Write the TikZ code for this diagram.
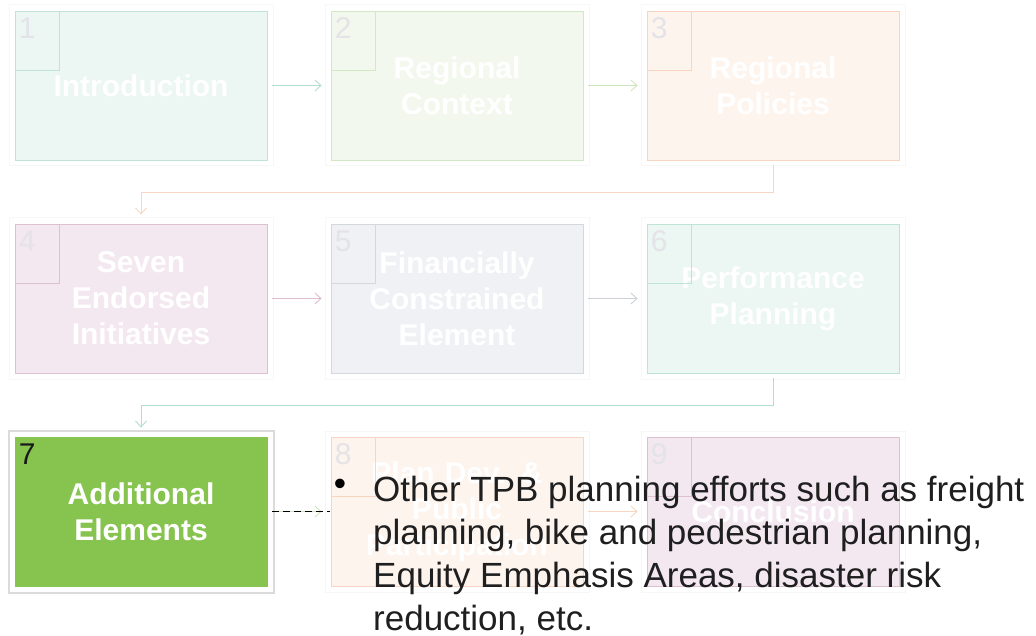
\documentclass[tikz,border=0pt]{standalone}
\usepackage{fontspec}
\setmainfont{Liberation Sans}
\usepackage{xcolor}
\usepackage{tikz}
\usetikzlibrary{shapes,arrows,arrows.meta,positioning}

\definecolor{tealF}{HTML}{ECF6F2}
\definecolor{tealD}{HTML}{BFE3D5}
\definecolor{tealA}{HTML}{B2DECD}
\definecolor{greenF}{HTML}{F2F8EE}
\definecolor{greenD}{HTML}{D3E8C4}
\definecolor{greenA}{HTML}{CDE6BC}
\definecolor{orangeF}{HTML}{FEF4EE}
\definecolor{orangeD}{HTML}{F8D5C0}
\definecolor{orangeA}{HTML}{F8D6C2}
\definecolor{pinkF}{HTML}{F3E8EF}
\definecolor{pinkD}{HTML}{DDC0D2}
\definecolor{pinkA}{HTML}{DDBCD0}
\definecolor{grayF}{HTML}{F0F1F4}
\definecolor{grayD}{HTML}{D4D7DD}
\definecolor{grayA}{HTML}{CDD0D7}
\definecolor{activeF}{HTML}{86C34F}
\definecolor{numgray}{HTML}{E3E3E8}

\begin{document}
\begin{tikzpicture}[x=1pt, y=1pt, node distance=316pt, auto]
    \tikzstyle{box} = [rectangle, minimum width=252pt, minimum height=149pt, text width=246pt, align=center, inner sep=0pt, line width=0.8pt, text=white, font=\fontsize{30}{36}\selectfont\bfseries, preaction={draw=black!3, line width=13pt, rounded corners=3pt}, preaction={draw=white, line width=11pt, rounded corners=2pt}]
    \tikzstyle{current} = [box, preaction={draw=black!14, line width=15pt, rounded corners=4pt}, preaction={draw=white, line width=11pt, rounded corners=2pt}]
    \tikzstyle{num} = [anchor=north west, inner sep=0pt, xshift=4pt, yshift=-7pt, font=\fontsize{30}{30}\selectfont\mdseries, text=numgray]
    \tikzstyle{arrow} = [line width=0.9pt, ->, >={Straight Barb[length=6pt,width=11pt]}, shorten <=5pt, shorten >=9pt]
    \tikzstyle{note} = [align=left, inner sep=0pt, font=\fontsize{35}{43}\selectfont, text=black!88]

    \useasboundingbox (0,0) rectangle (1036,-636);

    % First row
    \node [box, fill=tealF, draw=tealD, label={[num]north west:1}] (b1) at (141,-85.5) {Introduction};
    \node [box, fill=greenF, draw=greenD, label={[num]north west:2}, right of=b1] (b2) {Regional\\Context};
    \node [box, fill=orangeF, draw=orangeD, label={[num]north west:3}, right of=b2] (b3) {Regional\\Policies};

    % Second row
    \node [box, fill=pinkF, draw=pinkD, label={[num]north west:4}, below of=b1, node distance=213pt] (b4) {Seven\\Endorsed\\Initiatives};
    \node [box, fill=grayF, draw=grayD, label={[num]north west:5}, right of=b4] (b5) {Financially\\Constrained\\Element};
    \node [box, fill=tealF, draw=tealD, label={[num]north west:6}, right of=b5] (b6) {Performance\\Planning};

    % Third row, current step in green
    \node [current, fill=activeF, draw=activeF, label={[num, text=black!90]north west:7}, below of=b4, node distance=213pt] (b7) {Additional\\Elements};
    \node [box, fill=orangeF, draw=orangeD, label={[num]north west:8}, right of=b7] (b8) {Plan Dev. \&\\Public\\Participation};
    \node [box, fill=pinkF, draw=pinkD, label={[num]north west:9}, right of=b8] (b9) {Conclusion};

    % Number corners
    \draw [tealD] ([xshift=45pt]b1.north west) |- ([yshift=-60pt]b1.north west);
    \draw [greenD] ([xshift=45pt]b2.north west) |- ([yshift=-60pt]b2.north west);
    \draw [orangeD] ([xshift=45pt]b3.north west) |- ([yshift=-60pt]b3.north west);
    \draw [pinkD] ([xshift=45pt]b4.north west) |- ([yshift=-60pt]b4.north west);
    \draw [grayD] ([xshift=45pt]b5.north west) |- ([yshift=-60pt]b5.north west);
    \draw [tealD] ([xshift=45pt]b6.north west) |- ([yshift=-60pt]b6.north west);
    \draw [orangeD] ([xshift=45pt]b8.north west) |- ([yshift=-60pt]b8.north west);
    \draw [pinkD] ([xshift=45pt]b9.north west) |- ([yshift=-60pt]b9.north west);

    % Connections
    \draw [arrow, tealA] (b1) -- (b2);
    \draw [arrow, greenA] (b2) -- (b3);
    \draw [arrow, orangeA] (b3.south) -- ++(0,-32) -| (b4.north);
    \draw [arrow, pinkA] (b4) -- (b5);
    \draw [arrow, grayA] (b5) -- (b6);
    \draw [arrow, tealA] (b6.south) -- ++(0,-32) -| (b7.north);
    \draw [arrow, greenA] (b7) -- (b8);
    \draw [arrow, orangeA] (b8) -- (b9);
    \draw [line width=1.5pt, dash pattern=on 7pt off 4pt, shorten <=5pt, shorten >=1pt] (b7) -- (b8);

    % Bullet note
    \node [font=\fontsize{35}{43}\selectfont] (dot) at (340,-487) {\textbullet};
    \node [note, anchor=north west] (efforts) at (373,-476) {Other TPB planning efforts such as freight\\planning, bike and pedestrian planning,\\Equity Emphasis Areas, disaster risk\\reduction, etc.};
\end{tikzpicture}
\end{document}
